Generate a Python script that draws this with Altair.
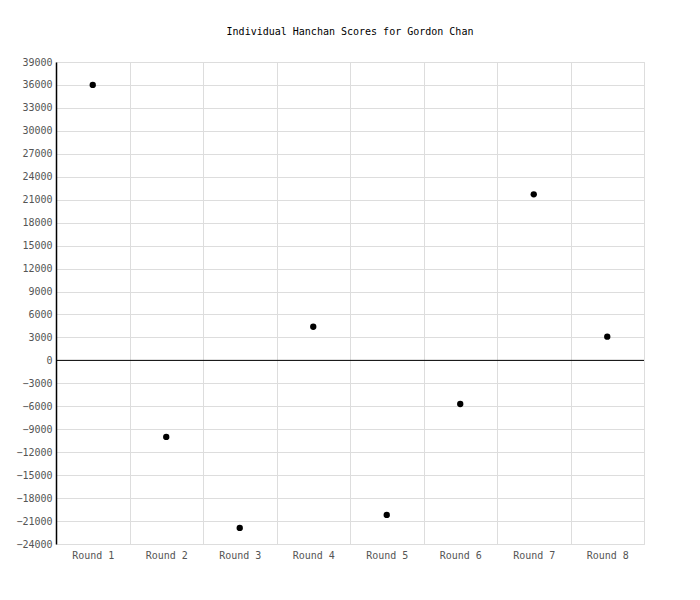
import altair as alt
import pandas as pd

rounds = ["Round 1", "Round 2", "Round 3", "Round 4", "Round 5", "Round 6", "Round 7", "Round 8"]
scores = [36000, -10000, -21900, 4400, -20200, -5700, 21700, 3100]
y_ticks = list(range(-24000, 39001, 3000))
title_text = "Individual Hanchan Scores for Gordon Chan"

df = pd.DataFrame({"round": rounds, "score": scores})
zero = pd.DataFrame({"score": [0]})

FONT = "DejaVu Sans Mono"

yscale = alt.Scale(domain=[-24000, 39000], nice=False, zero=False)
yaxis = alt.Axis(values=y_ticks, format="d", ticks=False, domain=True,
                 domainColor="black", domainWidth=1.5,
                 labelOverlap=False, labelFlush=False,
                 grid=True, gridColor="#dddddd", labelColor="#555555",
                 labelFont=FONT, labelFontSize=10, labelPadding=4)

rule = alt.Chart(zero).mark_rule(color="black", strokeWidth=1).encode(
    y=alt.Y("score:Q", scale=yscale, title=None, axis=yaxis)
)

points = alt.Chart(df).mark_circle(size=40, color="black", opacity=1).encode(
    x=alt.X("round:N", sort=rounds, title=None,
            axis=alt.Axis(labelAngle=0, tickBand="extent", ticks=False, domain=False,
                          grid=True, gridColor="#dddddd", labelColor="#555555",
                          labelFont=FONT, labelFontSize=10, labelPadding=6)),
    y=alt.Y("score:Q", scale=yscale, title=None, axis=yaxis),
)

chart = alt.layer(rule, points).properties(
    width=588,
    height=482,
    title=alt.TitleParams(title_text, font=FONT, fontSize=10, fontWeight="normal",
                          color="black", anchor="middle", offset=20),
    autosize=alt.AutoSizeParams(type="none"),
    padding={"left": 48, "top": 54, "right": 48, "bottom": 48},
).configure_view(stroke="#dddddd", strokeWidth=1)

chart.save("out.html", embed_options={"renderer": "svg", "actions": False})
